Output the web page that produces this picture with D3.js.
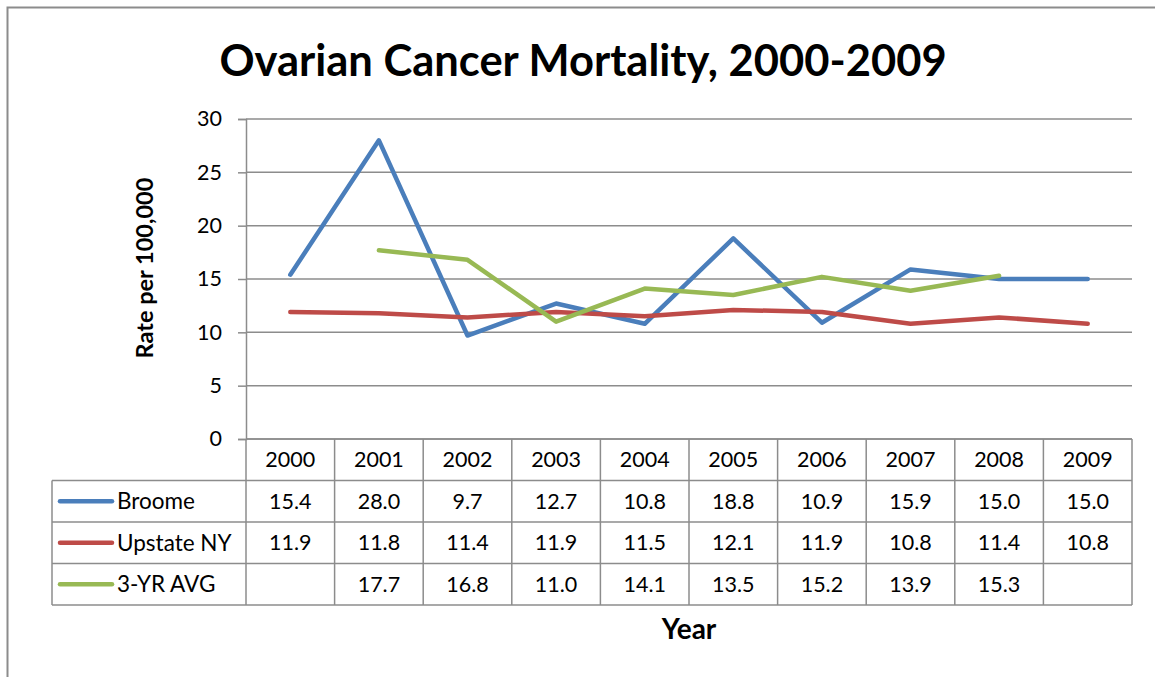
<!DOCTYPE html>
<html>
<head>
<meta charset="utf-8">
<script src="https://cdn.jsdelivr.net/npm/d3@7"></script>
<style>
  html, body { margin: 0; padding: 0; background: #fff; }
  svg { display: block; font-family: Lato, "Open Sans", sans-serif; }
</style>
</head>
<body>
<svg id="chart" width="1155" height="677"></svg>
<script>
// Ovarian cancer mortality, rate per 100,000
const years = ["2000", "2001", "2002", "2003", "2004", "2005", "2006", "2007", "2008", "2009"];
const broome = [15.4, 28.0, 9.7, 12.7, 10.8, 18.8, 10.9, 15.9, 15.0, 15.0];
const upstateNY = [11.9, 11.8, 11.4, 11.9, 11.5, 12.1, 11.9, 10.8, 11.4, 10.8];
const threeYrAvg = [null, 17.7, 16.8, 11.0, 14.1, 13.5, 15.2, 13.9, 15.3, null];
const seriesNames = ["Broome", "Upstate NY", "3-YR AVG"];
const seriesColors = ["#4A7EBB", "#BE4B48", "#98B954"];
const yTicks = [0, 5, 10, 15, 20, 25, 30];

const series = [broome, upstateNY, threeYrAvg].map((vals, i) => ({
  name: seriesNames[i], color: seriesColors[i], values: vals
}));

const svg = d3.select("#chart");
const plot = { left: 246, right: 1132, top: 119, bottom: 439 };
const rowH = 41.5;
const tableLeft = 52;
const gridColor = "#8c8c8c";
const labelSize = 21.5;

// Chart frame
svg.append("path")
  .attr("d", "M7.5,690 V7.5 H1170")
  .attr("fill", "none").attr("stroke", "#8c8c8c").attr("stroke-width", 2);

// Title
svg.append("text")
  .attr("x", 583).attr("y", 76)
  .attr("text-anchor", "middle")
  .attr("font-size", 43.5).attr("font-weight", "bold")
  .text("Ovarian Cancer Mortality, 2000-2009");

const x = d3.scaleBand().domain(years).range([plot.left, plot.right]);
const y = d3.scaleLinear().domain([0, 30]).range([plot.bottom, plot.top]);

// Horizontal gridlines
svg.append("g").selectAll("line").data(yTicks).join("line")
  .attr("x1", plot.left).attr("x2", plot.right)
  .attr("y1", d => y(d)).attr("y2", d => y(d))
  .attr("stroke", gridColor).attr("stroke-width", 1.5);

// Y axis
const yAxis = svg.append("g")
  .attr("transform", `translate(${plot.left},0)`)
  .call(d3.axisLeft(y).tickValues(yTicks).tickSize(8).tickPadding(16));
yAxis.select(".domain").attr("stroke", gridColor).attr("stroke-width", 1.5);
yAxis.selectAll(".tick line").attr("stroke", gridColor).attr("stroke-width", 1.5);
yAxis.selectAll(".tick text")
  .attr("font-size", labelSize).attr("font-family", "Lato, sans-serif").attr("fill", "#000");

// Y axis title
svg.append("text")
  .attr("transform", "translate(153,268) rotate(-90)")
  .attr("text-anchor", "middle")
  .attr("font-size", 23.5).attr("font-weight", "bold")
  .text("Rate per 100,000");

// Series lines
const line = d3.line()
  .defined(d => d.v !== null)
  .x(d => x(d.year) + x.bandwidth() / 2)
  .y(d => y(d.v));

svg.append("g").selectAll("path").data(series).join("path")
  .attr("d", s => line(s.values.map((v, i) => ({ year: years[i], v }))))
  .attr("fill", "none")
  .attr("stroke", s => s.color)
  .attr("stroke-width", 4.5)
  .attr("stroke-linejoin", "round")
  .attr("stroke-linecap", "round");

// Data table
const table = svg.append("g");
const tableBottom = plot.bottom + rowH * (series.length + 1);

// horizontal rules
const hRules = d3.range(series.length + 2).map(i => plot.bottom + i * rowH);
table.selectAll("line.h").data(hRules).join("line")
  .attr("class", "h")
  .attr("x1", (d, i) => i < 1 ? plot.left : tableLeft)
  .attr("x2", plot.right)
  .attr("y1", d => d).attr("y2", d => d)
  .attr("stroke", gridColor).attr("stroke-width", 1.5);

// vertical rules
const colEdges = years.map(yr => x(yr)).concat([plot.right]);
table.selectAll("line.v").data(colEdges).join("line")
  .attr("class", "v")
  .attr("x1", d => d).attr("x2", d => d)
  .attr("y1", plot.bottom).attr("y2", tableBottom)
  .attr("stroke", gridColor).attr("stroke-width", 1.5);
table.append("line")
  .attr("x1", tableLeft).attr("x2", tableLeft)
  .attr("y1", plot.bottom + rowH).attr("y2", tableBottom)
  .attr("stroke", gridColor).attr("stroke-width", 1.5);

// header years
table.selectAll("text.yr").data(years).join("text")
  .attr("class", "yr")
  .attr("x", d => x(d) + x.bandwidth() / 2)
  .attr("y", plot.bottom + rowH / 2)
  .attr("dy", "0.35em")
  .attr("text-anchor", "middle")
  .attr("font-size", labelSize)
  .text(d => d);

// series rows
series.forEach((s, r) => {
  const rowMid = plot.bottom + rowH * (r + 1) + rowH / 2;
  table.append("line")
    .attr("x1", 60).attr("x2", 112)
    .attr("y1", rowMid).attr("y2", rowMid)
    .attr("stroke", s.color).attr("stroke-width", 4.5)
    .attr("stroke-linecap", "round");
  table.append("text")
    .attr("x", 117).attr("y", rowMid).attr("dy", "0.35em")
    .attr("font-size", 22.5)
    .text(s.name);
  table.selectAll(null).data(s.values.map((v, i) => ({ v, year: years[i] })).filter(d => d.v !== null))
    .join("text")
    .attr("x", d => x(d.year) + x.bandwidth() / 2)
    .attr("y", rowMid).attr("dy", "0.35em")
    .attr("text-anchor", "middle")
    .attr("font-size", labelSize)
    .text(d => d.v.toFixed(1));
});

// X axis title
svg.append("text")
  .attr("x", (plot.left + plot.right) / 2).attr("y", 639)
  .attr("text-anchor", "middle")
  .attr("font-size", 28).attr("font-weight", "bold")
  .text("Year");
</script>
</body>
</html>
